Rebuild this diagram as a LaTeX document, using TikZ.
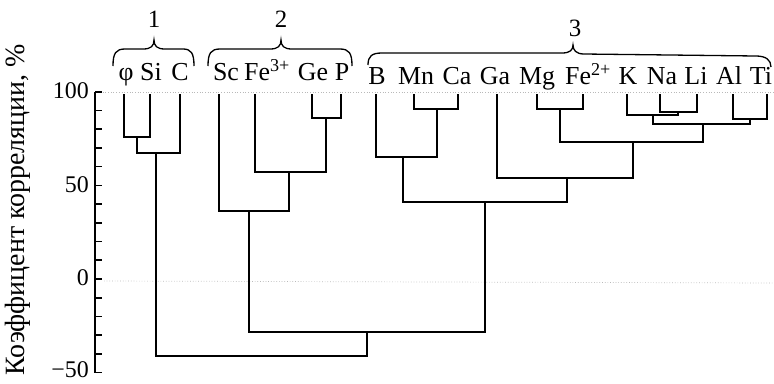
\documentclass[tikz,border=0pt]{standalone}
\usepackage{fontspec}
\setmainfont{Liberation Serif}
\begin{document}
\begin{tikzpicture}[x=1bp,y=-1bp]
\useasboundingbox (0,0) rectangle (774,383);
\tikzset{
  lbl/.style={font=\fontsize{26}{30}\selectfont, inner sep=0pt, anchor=base},
  num/.style={font=\fontsize{24}{28}\selectfont, inner sep=0pt, anchor=east},
  grp/.style={font=\fontsize{25}{29}\selectfont, inner sep=0pt},
  tree/.style={line width=1.6bp, black},
  brc/.style={line width=1.3bp, black},
  faint/.style={gray!55, dotted, line width=0.7bp}
}
% faint reference lines (100 and 0 levels)
\coordinate (f1a) at (100,92);  \coordinate (f1b) at (774,92);
\coordinate (f0a) at (104,281); \coordinate (f0b) at (774,283);
\draw[faint] (f1a) -- (f1b);
\draw[faint] (f0a) -- (f0b);

% axis
\coordinate (axT) at (95,91.7);
\coordinate (axB) at (95,372.6);
\draw[tree] (axT) -- (axB);
\foreach \v in {-50,-40,...,100} \draw[tree] (95,{279-1.873*\v}) -- ++(7,0);
\node[num] (t100) at (89,91) {100};
\node[num] (t50)  at (89,185) {50};
\node[num] (t0)   at (89,278) {0};
\node[num] (tm50) at (89,370) {−50};
\node[font=\fontsize{28}{32}\selectfont, rotate=90, inner sep=0pt] (ylab) at (18,210) {Коэффицент корреляции, \%};

% leaf labels
\node[lbl] (phi) at (126,80) {φ};
\node[lbl] (si)  at (151,80) {Si};
\node[lbl] (c)   at (180,80) {C};
\node[lbl] (sc)  at (226,80) {Sc};
\node[lbl] (fe3) at (267,80) {Fe\textsuperscript{3+}};
\node[lbl] (ge)  at (313,80) {Ge};
\node[lbl] (p)   at (342,80) {P};
\node[lbl] (b)   at (377,84) {B};
\node[lbl] (mn)  at (416,84) {Mn};
\node[lbl] (ca)  at (457,84) {Ca};
\node[lbl] (ga)  at (495,84) {Ga};
\node[lbl] (mg)  at (537,84) {Mg};
\node[lbl] (fe2) at (588,84) {Fe\textsuperscript{2+}};
\node[lbl] (k)   at (628,84) {K};
\node[lbl] (na)  at (662,84) {Na};
\node[lbl] (li)  at (696,84) {Li};
\node[lbl] (al)  at (729,84) {Al};
\node[lbl] (ti)  at (761,84) {Ti};

% leaf tops
\coordinate (phiT) at (124,94);
\coordinate (siT)  at (150,94);
\coordinate (cT)   at (180,94);
\coordinate (scT)  at (219,94);
\coordinate (fe3T) at (255,94);
\coordinate (geT)  at (312,94);
\coordinate (pT)   at (341,94);
\coordinate (bT)   at (376,94);
\coordinate (mnT)  at (414,94);
\coordinate (caT)  at (458,94);
\coordinate (gaT)  at (497,94);
\coordinate (mgT)  at (537,94);
\coordinate (fe2T) at (583,94);
\coordinate (kT)   at (627,94);
\coordinate (naT)  at (660,94);
\coordinate (liT)  at (697,94);
\coordinate (alT)  at (733,94);
\coordinate (tiT)  at (767,94);

% join points
\coordinate (a1) at (137,137);
\coordinate (a2) at (156,153);
\coordinate (b1) at (326,118);
\coordinate (b2) at (289,172);
\coordinate (b3) at (249,211);
\coordinate (c1) at (437,109);
\coordinate (c2) at (403,157);
\coordinate (c3) at (560,109);
\coordinate (c4) at (678,112);
\coordinate (c5) at (653,115);
\coordinate (c6) at (750,119);
\coordinate (c7) at (703,124);
\coordinate (c8) at (633,142);
\coordinate (c9) at (567,178);
\coordinate (c10) at (485,202);
\coordinate (d1) at (367,332);
\coordinate (e1) at (260,356);

\draw[tree] (phiT) |- (a1) -| (siT);
\draw[tree] (a1) |- (a2) -| (cT);
\draw[tree] (geT) |- (b1) -| (pT);
\draw[tree] (fe3T) |- (b2) -| (b1);
\draw[tree] (scT) |- (b3) -| (b2);
\draw[tree] (mnT) |- (c1) -| (caT);
\draw[tree] (bT) |- (c2) -| (c1);
\draw[tree] (mgT) |- (c3) -| (fe2T);
\draw[tree] (naT) |- (c4) -| (liT);
\draw[tree] (kT) |- (c5) -| (c4);
\draw[tree] (alT) |- (c6) -| (tiT);
\draw[tree] (c5) |- (c7) -| (c6);
\draw[tree] (c3) |- (c8) -| (c7);
\draw[tree] (gaT) |- (c9) -| (c8);
\draw[tree] (c2) |- (c10) -| (c9);
\draw[tree] (b3) |- (d1) -| (c10);
\draw[tree] (a2) |- (e1) -| (d1);

% braces
\draw[brc] (113,66) .. controls (113,53) and (116,49) .. (125,49) -- (143,49)
  .. controls (151,49) and (154,46) .. (154,40)
  .. controls (154,46) and (157,49) .. (165,49) -- (183,49)
  .. controls (191,49) and (194,53) .. (194,66);
\draw[brc] (208,66) .. controls (208,53) and (211,49) .. (220,49) -- (270,49)
  .. controls (278,49) and (281,46) .. (281,40)
  .. controls (281,46) and (284,49) .. (292,49) -- (340,49)
  .. controls (349,49) and (352,53) .. (352,66);
\draw[brc] (368,65) .. controls (368,56) and (372,53) .. (382,53) -- (562,53)
  .. controls (570,53) and (573,50) .. (573,45)
  .. controls (573,50) and (576,54) .. (584,54) -- (756,56)
  .. controls (766,56) and (771,60) .. (771,67);
\node[grp] (g1) at (154,19) {1};
\node[grp] (g2) at (281,19) {2};
\node[grp] (g3) at (575,28) {3};
\end{tikzpicture}
\end{document}
